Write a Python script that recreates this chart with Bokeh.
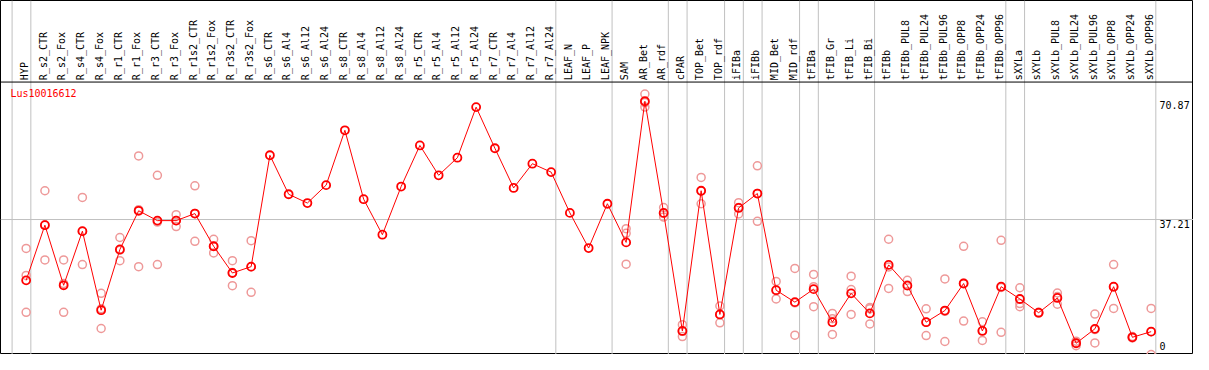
import math
from bokeh.plotting import figure
from bokeh.models import Range1d, Span, ColumnDataSource
from bokeh.core.properties import value
from bokeh.embed import file_html
from bokeh.resources import INLINE

categories = ["HYP", "R_s2_CTR", "R_s2_Fox", "R_s4_CTR", "R_s4_Fox", "R_r1_CTR", "R_r1_Fox",
              "R_r3_CTR", "R_r3_Fox", "R_r1s2_CTR", "R_r1s2_Fox", "R_r3s2_CTR", "R_r3s2_Fox",
              "R_s6_CTR", "R_s6_Al4", "R_s6_Al12", "R_s6_Al24", "R_s8_CTR", "R_s8_Al4",
              "R_s8_Al12", "R_s8_Al24", "R_r5_CTR", "R_r5_Al4", "R_r5_Al12", "R_r5_Al24",
              "R_r7_CTR", "R_r7_Al4", "R_r7_Al12", "R_r7_Al24", "LEAF_N", "LEAF_P", "LEAF_NPK",
              "SAM", "AR_Bet", "AR_rdf", "cPAR", "TOP_Bet", "TOP_rdf", "iFIBa", "iFIBb",
              "MID_Bet", "MID_rdf", "tFIBa", "tFIB_Gr", "tFIB_Li", "tFIB_Bi", "tFIBb",
              "tFIBb_PUL8", "tFIBb_PUL24", "tFIBb_PUL96", "tFIBb_OPP8", "tFIBb_OPP24",
              "tFIBb_OPP96", "sXYLa", "sXYLb", "sXYLb_PUL8", "sXYLb_PUL24", "sXYLb_PUL96",
              "sXYLb_OPP8", "sXYLb_OPP24", "sXYLb_OPP96"]

means = [19.9, 35.6, 18.5, 33.9, 11.4, 28.7, 39.7, 36.9, 36.9, 38.9, 29.6, 22.0, 23.8,
         55.5, 44.4, 41.9, 47.0, 62.6, 43.0, 32.9, 46.6, 58.3, 49.8, 54.8, 69.2,
         57.5, 46.2, 53.1, 50.7, 39.1, 29.1, 41.7,
         30.7, 70.87, 39.1, 5.5, 45.4, 10.2, 40.5, 44.6, 17.1, 13.7,
         17.4, 8.0, 16.2, 10.5, 24.3, 18.4, 8.0, 11.3, 19.0, 5.5, 18.1,
         14.6, 10.7, 14.9, 2.0, 6.1, 18.1, 3.7, 5.3]

N = None
rep_a = [29.0, 45.4, 25.7, 43.5, 16.2, 32.1, 55.3, 49.8, 38.6, 46.8, 31.6, 25.5, 31.2,
         N, N, N, N, N, N, N, N, N, N, N, N, N, N, N, N, N, N, N,
         34.6, 72.9, 40.6, 7.3, 49.2, 12.6, 42.0, 52.5, 19.6, 23.3,
         21.6, 10.5, 21.1, 12.2, 31.6, 19.9, 11.8, 20.3, 29.6, 8.1, 31.3,
         17.8, 10.8, 16.3, 2.6, 10.3, 24.4, 3.9, 11.9]
rep_b = [10.8, 25.7, 10.8, 24.4, 6.2, 25.5, 23.8, 24.4, 35.2, 31.0, 27.7, 18.4, 16.5,
         N, N, N, N, N, N, N, N, N, N, N, N, N, N, N, N, N, N, N,
         24.5, 69.2, 37.9, 3.9, 41.7, 7.8, 38.8, 36.7, 14.6, 4.3,
         12.4, 4.5, 10.2, 7.5, 17.6, 16.7, 4.2, 2.5, 8.3, 2.8, 5.1,
         12.4, 10.6, 13.1, 1.3, 2.1, 11.9, 3.5, -1.2]
rep_c = [21.3, 35.7, 19.0, 33.8, 11.8, 28.5, 40.0, 36.5, 36.9, 38.9, 29.6, 22.1, 23.7,
         N, N, N, N, N, N, N, N, N, N, N, N, N, N, N, N, N, N, N,
         33.3, 70.5, 38.9, 5.4, 45.3, 10.2, 40.6, 44.6, 17.1, 13.5,
         18.1, 9.0, 17.3, 11.8, 23.7, 18.6, 8.0, 11.1, 19.1, 5.6, 17.9,
         13.3, 10.7, 15.3, 2.1, 5.9, 18.0, 3.7, 5.3]

tick_values = [0, 37.21, 70.87]
tick_labels = ["0", "37.21", "70.87"]
group_ends = [-1, 0, 28, 31, 34, 35, 37, 38, 39, 41, 42, 45, 52, 53, 60]
gene = "Lus10016612"

RED = "#ff0000"
PINK = "#ee9999"
GREY = "#c0c0c0"
FONT = value("DejaVu Sans Mono")
FS = "10px"

idx = list(range(len(categories)))

p = figure(width=1193, height=354, output_backend="svg", toolbar_location=None,
           x_axis_location=None, y_axis_location=None, min_border=0,
           x_range=Range1d(-1.368, 62.26), y_range=Range1d(-1.2, 99.54))
p.xgrid.visible = False
p.ygrid.visible = False
p.outline_line_color = "black"
p.outline_line_width = 1
p.background_fill_color = "white"
p.border_fill_color = "white"

# group separators
for g in group_ends:
    p.add_layout(Span(location=g + 0.25, dimension="height", line_color=GREY,
                      line_width=1, level="underlay"))
# grid at middle tick
p.add_layout(Span(location=tick_values[1], dimension="width", line_color=GREY,
                  line_width=1, level="underlay"))
# header separator
p.add_layout(Span(location=76.33, dimension="width", line_color="black", line_width=1))

# replicate points
rx, ry = [], []
for reps in (rep_a, rep_b, rep_c):
    for i, v in enumerate(reps):
        if v is not None:
            rx.append(i)
            ry.append(v)
p.scatter(rx, ry, marker="circle", size=8, fill_color=None, line_color=PINK, line_width=1.5)

# mean line and markers
p.line(idx, means, line_color=RED, line_width=1)
p.scatter(idx, means, marker="circle", size=8, fill_color=None, line_color=RED, line_width=1.8)

# header labels
hsrc = ColumnDataSource(dict(x=[i - 0.1 for i in idx], y=[76.88] * len(idx), t=categories))
p.text(x="x", y="y", text="t", source=hsrc, angle=math.pi / 2, text_align="left",
       text_baseline="middle", text_font=FONT, text_font_size=FS, text_color="black")

# gene label
p.text(x=[-0.84], y=[73.05], text=[gene], text_align="left", text_baseline="middle",
       text_font=FONT, text_font_size=FS, text_color=RED)

# value ticks on the right
p.text(x=[60.45, 60.45], y=tick_values[1:], text=tick_labels[1:], text_align="left",
       text_baseline="top", text_font=FONT, text_font_size=FS, text_color="black")
p.text(x=[60.45], y=tick_values[:1], text=tick_labels[:1], text_align="left",
       text_baseline="bottom", text_font=FONT, text_font_size=FS, text_color="black")

open("out.html", "w").write(file_html(p, INLINE))
